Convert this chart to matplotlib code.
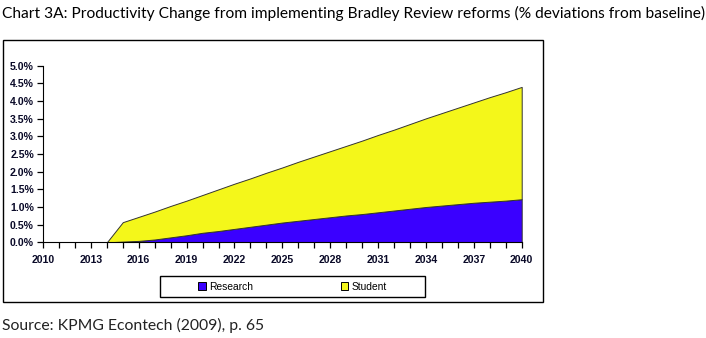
import matplotlib.pyplot as plt
import matplotlib.patches as patches
from matplotlib.ticker import MultipleLocator, FuncFormatter


# productivity deviation from baseline (%), by year
years = list(range(2010, 2041))
research = [0.0, 0.0, 0.0, 0.0, 0.0, 0.02, 0.04, 0.08, 0.14, 0.20,
            0.27, 0.32, 0.38, 0.44, 0.50, 0.56, 0.61, 0.66, 0.71, 0.76,
            0.80, 0.85, 0.90, 0.95, 1.00, 1.04, 1.08, 1.12, 1.15, 1.18,
            1.22]
total = [0.0, 0.0, 0.0, 0.0, 0.0, 0.57, 0.72, 0.87, 1.03, 1.18,
         1.34, 1.50, 1.66, 1.81, 1.97, 2.12, 2.28, 2.43, 2.58, 2.73,
         2.88, 3.04, 3.19, 3.35, 3.51, 3.66, 3.81, 3.96, 4.11, 4.25,
         4.40]
student = [t - r for t, r in zip(total, research)]

labels = ["Research", "Student"]
colors = ["#3a00ff", "#f4f71a"]

title = "Chart 3A: Productivity Change from implementing Bradley Review reforms (% deviations from baseline)"
source = "Source: KPMG Econtech (2009), p. 65"

W, H = 706, 338
fig = plt.figure(figsize=(W / 100, H / 100), dpi=100)

# outer chart border
fig.patches.append(patches.Rectangle((2.7 / W, 1 - 302.3 / H), 540.6 / W, 262 / H,
                                     transform=fig.transFigure, fill=False,
                                     edgecolor="black", linewidth=1.0))

ax = fig.add_axes([43 / W, 1 - 242.3 / H, 478.7 / W, 176.6 / H])
polys = ax.stackplot(years, research, student, colors=colors,
                     edgecolor="#333333", linewidth=0.7, labels=labels)

ax.set_xlim(2010, 2040)
ax.set_ylim(0, 5)
ax.spines["top"].set_visible(False)
ax.spines["right"].set_visible(False)
ax.patch.set_visible(False)

ax.xaxis.set_major_locator(MultipleLocator(3))
ax.xaxis.set_minor_locator(MultipleLocator(1))
ax.yaxis.set_major_locator(MultipleLocator(0.5))
ax.yaxis.set_major_formatter(FuncFormatter(lambda v, p: "%.1f%%" % v))
ax.tick_params(axis="both", which="both", direction="out", length=4,
               width=0.9, color="black")
ax.tick_params(axis="x", which="major", pad=5)
ax.tick_params(axis="y", pad=2.5)
for lab in ax.get_xticklabels() + ax.get_yticklabels():
    lab.set_fontfamily("Liberation Sans")
    lab.set_fontweight("bold")
    lab.set_fontsize(7.6)
    lab.set_color("#0a0a28")

# legend box
fig.patches.append(patches.Rectangle((160 / W, 1 - 297 / H), 265 / W, 21 / H,
                                     transform=fig.transFigure, fill=False,
                                     edgecolor="black", linewidth=1.0))
handles = [patches.Rectangle((0, 0), 1, 1, facecolor=c, edgecolor="black", linewidth=0.7)
           for c in colors]
fig.legend(handles, labels, loc="center", bbox_to_anchor=(292.5 / W, 1 - 286.5 / H),
           ncol=2, frameon=False, handlelength=0.7, handleheight=0.7,
           handletextpad=0.3, columnspacing=8.6,
           prop={"family": "Liberation Sans", "size": 7.4})

fig.text(2 / W, 1 - 13 / H, title, family="Lato", fontsize=11.2, va="center",
         ha="left", color="black")
fig.text(2 / W, 1 - 325 / H, source, family="Lato", fontsize=11.3, va="center",
         ha="left", color="#222222")

fig.savefig("out.png", dpi=100)
